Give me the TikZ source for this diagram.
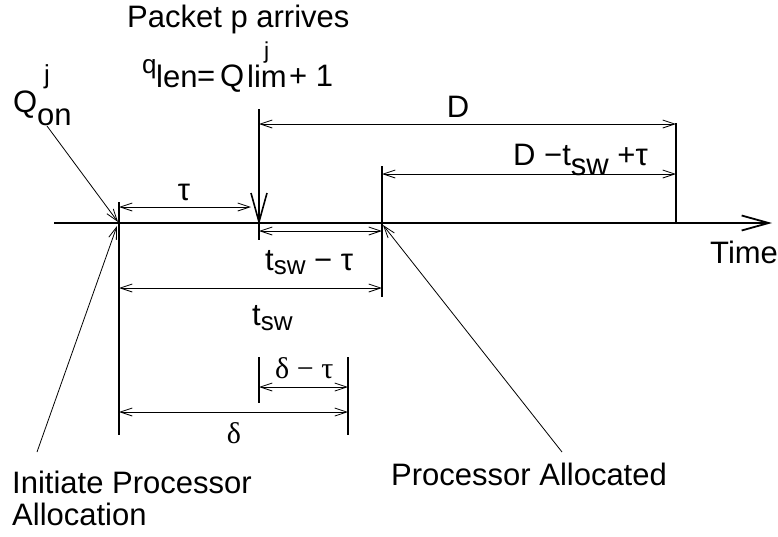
\documentclass[tikz,border=0pt]{standalone}
\usepackage{fontspec}
\setmainfont{Liberation Sans}
\newfontfamily\serifgr{Liberation Serif}
\usetikzlibrary{arrows.meta}
\begin{document}
\begin{tikzpicture}[x=1pt,y=-1pt,
  lbl/.style={inner sep=0pt, anchor=base west, font=\fontsize{31}{31}\selectfont},
  slbl/.style={lbl, font=\fontsize{30}{30}\selectfont\serifgr},
  dim/.style={line width=0.8pt, {Straight Barb[length=12pt,width=8pt]}-{Straight Barb[length=12pt,width=8pt]}},
  ptr/.style={line width=0.8pt, -{Straight Barb[length=12pt,width=8pt]}},
  tickln/.style={line width=1.6pt},
  axisln/.style={line width=1.8pt, -{Straight Barb[length=27pt,width=15pt]}}]
\useasboundingbox (0,0) rectangle (778,536);
\fill[white] (0,0) rectangle (778,536);
% axis
\coordinate (a0) at (54,223);
\coordinate (a1) at (772,223);
\draw[axisln] (a0) -- (a1);
% vertical lines
\coordinate (x1t) at (119,202); \coordinate (x1b) at (119,435);
\coordinate (x2t) at (259,109); \coordinate (x2m) at (259,222); \coordinate (x2b) at (259,240);
\coordinate (x3t) at (382,166); \coordinate (x3b) at (382,297);
\coordinate (x4t) at (676,123); \coordinate (x4b) at (676,224);
\coordinate (x5t) at (348,357); \coordinate (x5b) at (348,435);
\coordinate (x6t) at (259,357); \coordinate (x6b) at (259,403);
\draw[tickln] (x1t) -- (x1b);
\draw[tickln] (x2t) -- (x2b);
\draw[tickln] (251,193) -- (x2m) -- (267,193);
\draw[tickln] (x3t) -- (x3b);
\draw[tickln] (x4t) -- (x4b);
\draw[tickln] (x5t) -- (x5b);
\draw[tickln] (x6t) -- (x6b);
% dimension arrows
\draw[dim] (259,124) -- (676,124);
\draw[dim] (382,174) -- (676,174);
\draw[dim] (119,207) -- (251,207);
\draw[dim] (259,231) -- (382,231);
\draw[dim] (119,288) -- (382,288);
\draw[dim] (259,387) -- (348,387);
\draw[dim] (119,412) -- (348,412);
% labels on dimensions
\node[lbl, anchor=base] (lD) at (458,117) {D};
\node[lbl] (lDts) at (513,165) {D −t\raisebox{-10pt}{sw} +τ};
\node[lbl, anchor=base] (ltau) at (184,200) {τ};
\node[lbl] (ltsmt) at (265,270) {t\raisebox{-4pt}{\fontsize{26}{26}\selectfont sw} − τ};
\node[lbl] (lts) at (252,325) {t\raisebox{-5pt}{\fontsize{26}{26}\selectfont sw}};
\node[slbl] (ldmt) at (275,378) {δ − τ};
\node[slbl, anchor=base] (ld) at (234,443) {δ};
% top texts
\node[lbl] (pk) at (127,27) {Packet p arrives};
\node[lbl, font=\fontsize{26}{26}\selectfont, text depth=5pt] (q) at (142,73) {q};
\node[lbl] (len) at (156,87) {len};
\node[lbl] (eq) at (197,86) {=};
\node[lbl] (Ql) at (220,86) {Q};
\node[lbl, text height=22pt] (lim) at (247,87) {lim};
\node[lbl, font=\fontsize{23}{23}\selectfont, text height=16pt, text depth=5pt] (jl) at (264,58) {j};
\node[lbl] (p1) at (289,86) {+ 1};
\node[lbl, text height=22pt] (Qo) at (13,112) {Q};
\node[lbl, font=\fontsize{26}{26}\selectfont, text depth=5pt] (jo) at (44,83) {j};
\node[lbl] (on) at (37,125) {on};
\node[lbl] (time) at (710,263) {Time};
\node[lbl] (ini1) at (12,493) {Initiate Processor};
\node[lbl] (ini2) at (12,525) {Allocation};
\node[lbl] (pa) at (391,485) {Processor Allocated};
% pointers
\coordinate (p1s) at (47,126); \coordinate (p1e) at (118,222);
\coordinate (p2s) at (37,452); \coordinate (p2e) at (117,226);
\coordinate (p3s) at (562,452); \coordinate (p3e) at (383,225);
\draw[ptr] (p1s) -- (p1e);
\draw[ptr] (p2s) -- (p2e);
\draw[ptr] (p3s) -- (p3e);
\end{tikzpicture}
\end{document}
